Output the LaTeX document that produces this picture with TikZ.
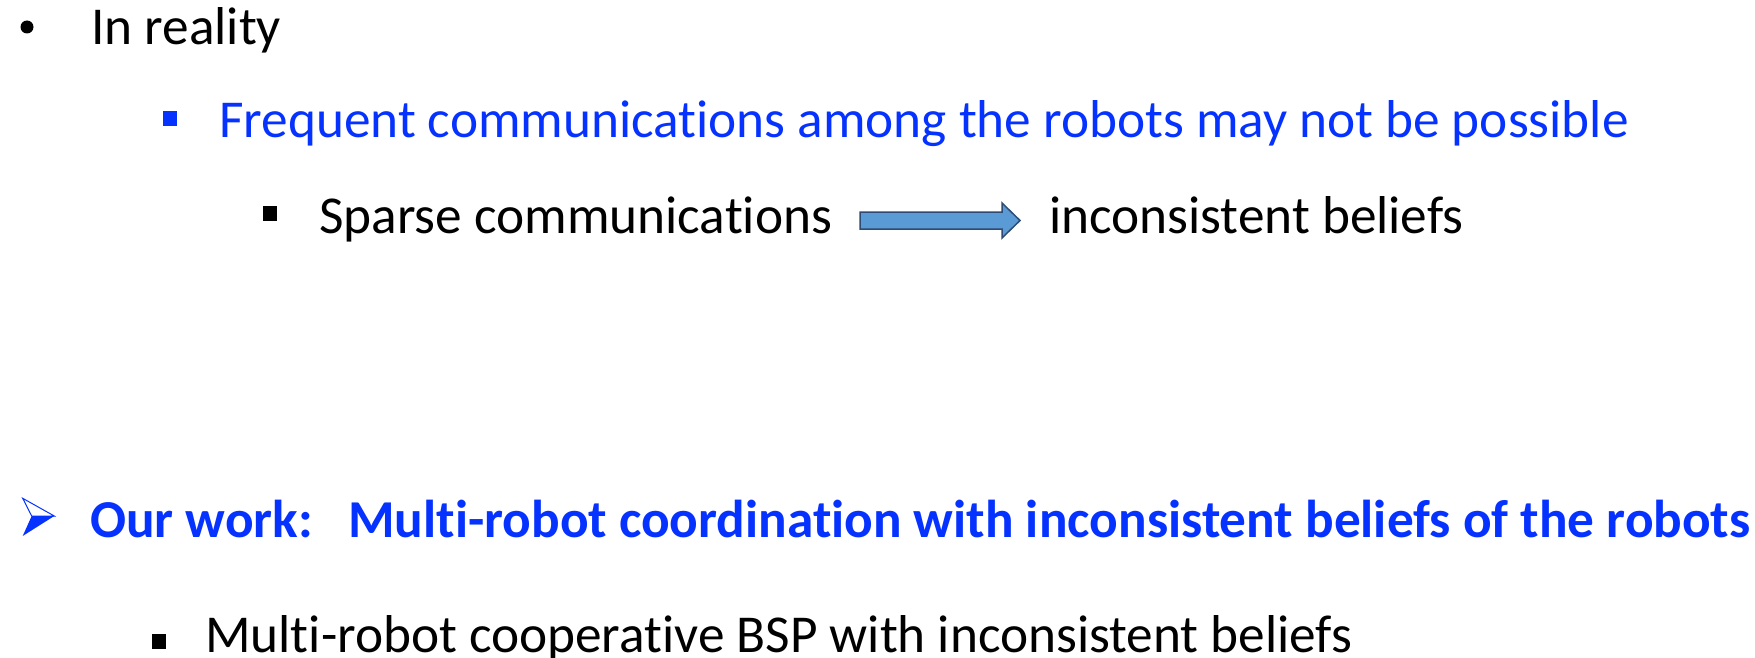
\documentclass[tikz,border=0pt]{standalone}
\usepackage{fontspec}
\setmainfont{Carlito}[Ligatures={NoCommon,NoRare,NoContextual}, RawFeature={-liga;-clig;-dlig}]
\usetikzlibrary{calc}
\definecolor{txtblue}{RGB}{5,50,255}
\definecolor{arrfill}{RGB}{91,155,213}
\definecolor{arrdraw}{RGB}{45,75,115}
\tikzset{
  txt/.style={inner sep=0pt, anchor=base west, font=\fontsize{53.3}{64}\selectfont},
  btxt/.style={txt, font=\fontsize{53.3}{64}\selectfont\bfseries, text=txtblue},
}
\begin{document}
\begin{tikzpicture}[x=1pt,y=-1pt]
\useasboundingbox (0,0) rectangle (1755,658);
% line 1
\fill (27,27) circle (6.5);
\node[txt] (l1) at (91,45) {In reality};
% line 2
\fill[txtblue] (163,111) rectangle (177,126);
\node[txt, text=txtblue] (l2) at (219,138) {Frequent communications among the robots may not be possible};
% line 3
\fill (263,206) rectangle (277,221);
\node[txt] (l3a) at (319,233) {Sparse communications};
\node[txt] (l3b) at (1049,233) {inconsistent beliefs};
\coordinate (as) at (860,220.5);
\coordinate (ae) at (1020,220.5);
\draw[arrdraw, fill=arrfill, line width=1.5pt, line join=miter]
  ($(as)+(0,-8.5)$) -- ($(ae)+(-18,-8.5)$) -- ($(ae)+(-18,-17.5)$) -- (ae)
  -- ($(ae)+(-18,17.5)$) -- ($(ae)+(-18,8.5)$) -- ($(as)+(0,8.5)$) -- cycle;
% line 4
\draw[txtblue, line width=1pt, line join=miter] (22.7,498.3) -- (54.3,516) -- (31.7,516) -- cycle;
\fill[txtblue] (31.7,516) -- (54.3,516) -- (22.7,536) -- cycle;
\node[btxt] (l4a) at (90,537) {Our work:};
\node[btxt] (l4b) at (348,537) {Multi-robot coordination with inconsistent beliefs of the robots};
% line 5
\fill (152,634) rectangle (166,649);
\node[txt] (l5) at (205,652) {Multi-robot cooperative BSP with inconsistent beliefs};
\end{tikzpicture}
\end{document}
